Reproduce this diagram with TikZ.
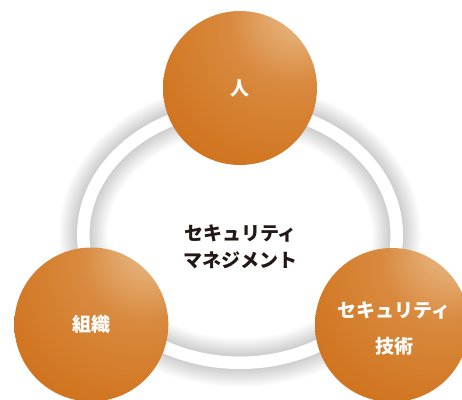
\documentclass[tikz,border=0pt]{standalone}
\usepackage{fontspec}
\newfontfamily\jp{Noto Sans CJK JP}
\definecolor{orbhl}{HTML}{E9BC8A}
\definecolor{orbmid}{HTML}{D98A3F}
\definecolor{orbedge}{HTML}{D0741F}
\definecolor{orbdark}{HTML}{C96610}
\definecolor{inktext}{HTML}{231815}
\pgfdeclareradialshading{orb}{\pgfpoint{22bp}{28bp}}{color(0bp)=(orbhl); color(3bp)=(orbhl); color(20bp)=(orbmid); color(42bp)=(orbedge); color(85bp)=(orbdark)}
\tikzset{
  orbnode/.style={circle, shading=orb, minimum size=154pt, inner sep=0pt, text=white, font=\jp\bfseries\fontsize{19pt}{24pt}\selectfont},
  ringshadow/.style={black, opacity=0.015},
  ringband/.style={white, line width=12.5pt},
  centertext/.style={text=inktext, align=center, font=\jp\bfseries\fontsize{19pt}{27pt}\selectfont},
  orbtext/.style={text=white, align=center, font=\jp\bfseries\fontsize{19pt}{36pt}\selectfont}
}
\begin{document}
\begin{tikzpicture}[x=1pt, y=-1pt]
\useasboundingbox (0,0) rectangle (462,399);
\clip (0,0) rectangle (462,399);
\fill[white] (0,0) rectangle (462,399);
% ring with soft shadow
\foreach \i in {1,...,12}
  \draw[ringshadow, line width={12.5pt+3pt*\i}] (240,235) ellipse [x radius=156.75pt, y radius=127.75pt];
\draw[ringband] (240,235) ellipse [x radius=156.75pt, y radius=127.75pt];
% centre text
\node[centertext] (mgmt) at (240.5,246.5) {セキュリティ\\マネジメント};
% orbs
\node[orbnode] (hito) at (240,88) {人};
\node[orbnode] (soshiki) at (91.3,324.5) {組織};
\node[orbnode] (gijutsu) at (392,325) {};
\node[orbtext] (gijutsutext) at (394,329) {セキュリティ\\技術};
\end{tikzpicture}
\end{document}
